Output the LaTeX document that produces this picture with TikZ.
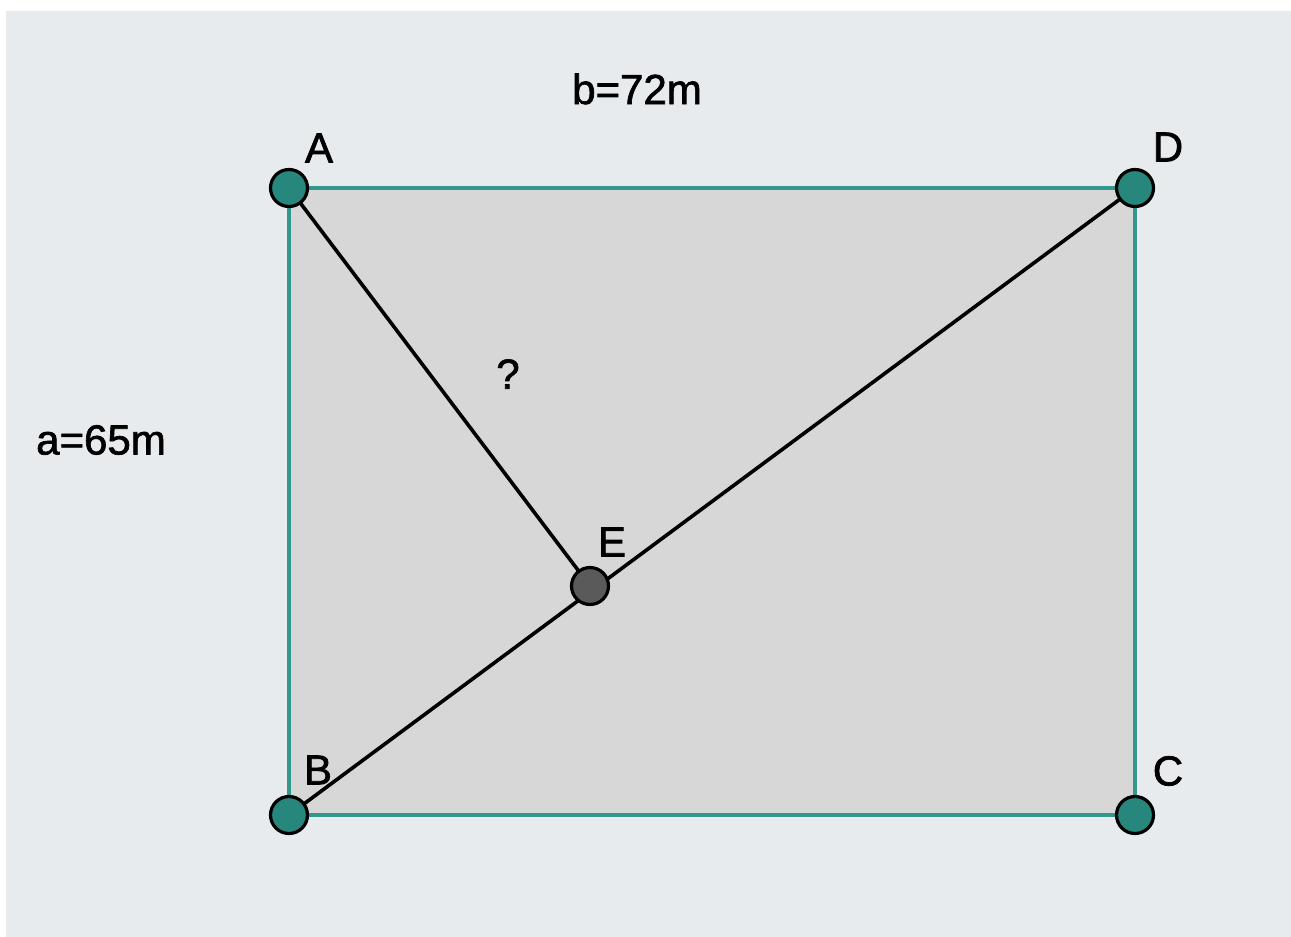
\documentclass[tikz,border=0pt]{standalone}
\usepackage{fontspec}
\setmainfont{Liberation Sans}
\newfontfamily\lblfont[FakeBold=1.6]{Liberation Sans}
\definecolor{bgc}{HTML}{E7EBEE}
\definecolor{fillc}{HTML}{D6D7D6}
\definecolor{edgec}{HTML}{32978D}
\definecolor{ptc}{HTML}{28877D}
\definecolor{ec}{HTML}{5A5A5A}
\begin{document}
\begin{tikzpicture}[x=1pt,y=-1pt,
  pt/.style={circle,draw=black,line width=3.2pt,fill=ptc,minimum size=37pt,inner sep=0pt},
  ept/.style={pt,fill=ec},
  lbl/.style={font=\lblfont\fontsize{42}{45}\selectfont,text=black,inner sep=0pt},
  seg/.style={line width=3.6pt,black},
  side/.style={line width=3.3pt,edgec}]
\useasboundingbox (0,0) rectangle (1291,937);
\fill[white] (0,0) rectangle (1291,937);
\fill[bgc] (6,11) rectangle (1291,937);
\coordinate (pA) at (289,188);
\coordinate (pD) at (1135,188);
\coordinate (pB) at (289,815);
\coordinate (pC) at (1135,815);
\coordinate (pE) at (590,586);
\fill[fillc] (pA) -- (pD) -- (pC) -- (pB) -- cycle;
\draw[side] (pA) -- (pD) -- (pC) -- (pB) -- cycle;
\draw[seg] (pB) -- (pD);
\draw[seg] (pA) -- (pE);
\node[pt] (A) at (pA) {};
\node[pt] (D) at (pD) {};
\node[pt] (B) at (pB) {};
\node[pt] (C) at (pC) {};
\node[ept] (E) at (pE) {};
\node[lbl] (lA) at (319,148) {A};
\node[lbl] (lD) at (1168,147) {D};
\node[lbl] (lB) at (318,770) {B};
\node[lbl] (lC) at (1168,771) {C};
\node[lbl] (lE) at (612,542) {E};
\node[lbl] (lb) at (637,89) {b=72m};
\node[lbl] (la) at (101,440) {a=65m};
\node[lbl] (lq) at (508,374) {?};
\end{tikzpicture}
\end{document}
